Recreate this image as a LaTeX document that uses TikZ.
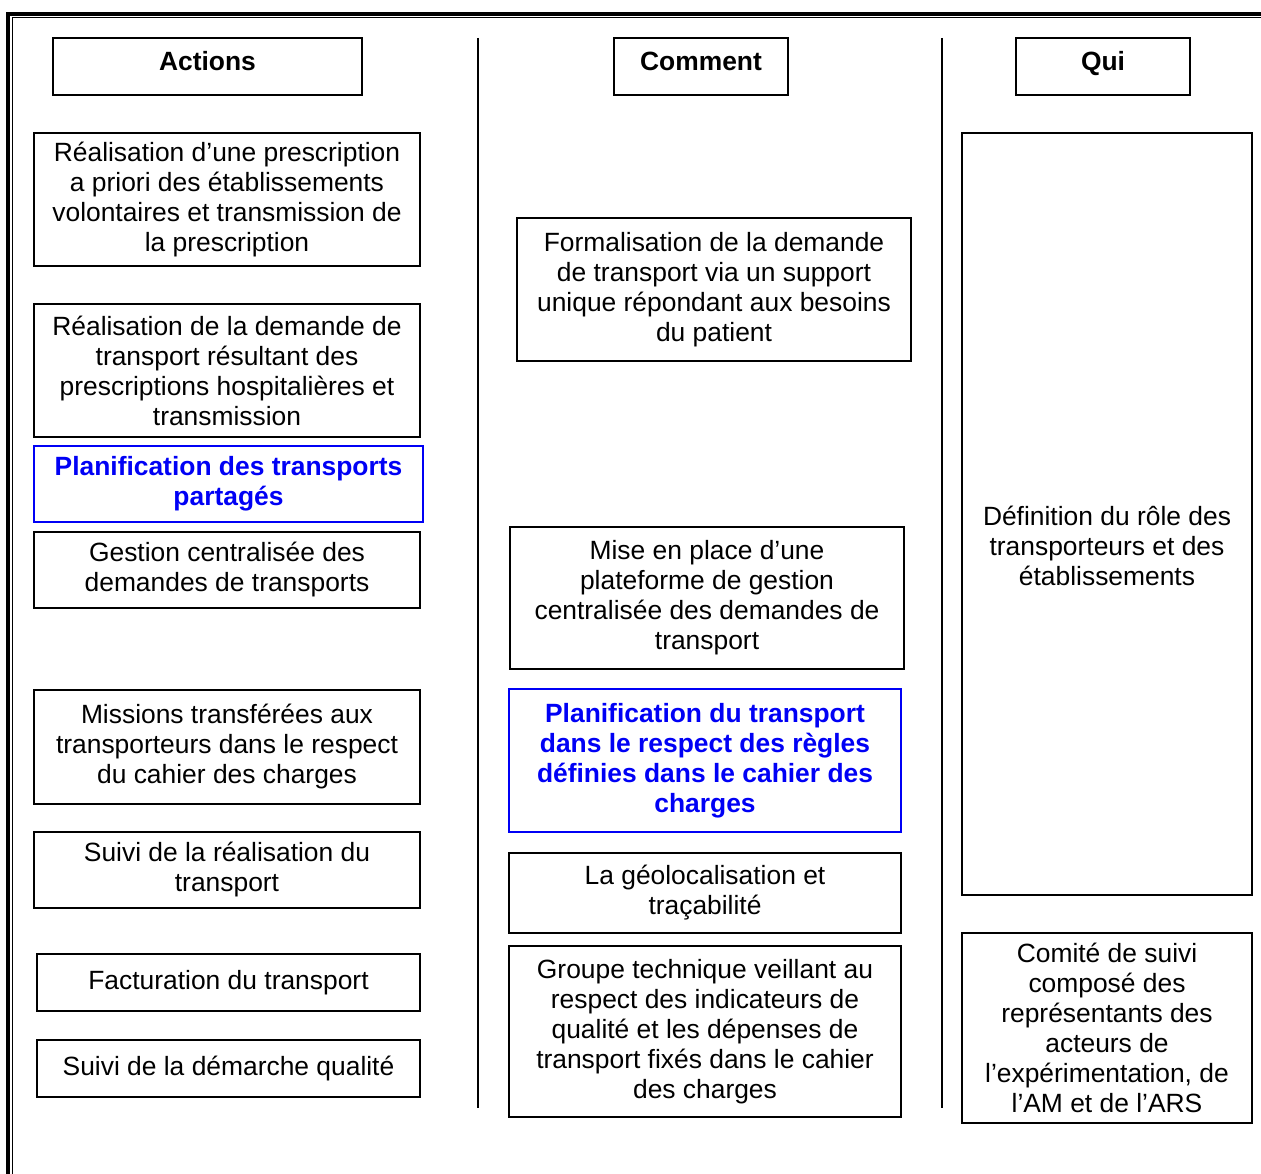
\documentclass[tikz,border=0pt]{standalone}
\usepackage{fontspec}
\setmainfont{Liberation Sans}
\definecolor{myblue}{RGB}{0,0,245}
\begin{document}
\begin{tikzpicture}[x=1pt,y=-1pt,
  box/.style={draw=black, line width=1.3pt, inner sep=0pt, align=center,
    font=\fontsize{26.4}{30}\selectfont},
  bluebox/.style={box, draw=myblue, text=myblue, font=\fontsize{26.4}{30}\selectfont\bfseries},
  head/.style={draw=black, line width=1.3pt, inner sep=0pt},
  headtxt/.style={inner sep=0pt, anchor=base, font=\fontsize{26.4}{30}\selectfont\bfseries},
  plain/.style={inner sep=0pt, align=center, font=\fontsize{26.4}{30}\selectfont},
  sep/.style={line width=1.6pt}]
\useasboundingbox (0,0) rectangle (1261,1174);
% frame
\draw[line width=4pt] (8,1190) -- (8,14) -- (1275,14);
\draw[line width=1pt] (12.5,1190) -- (12.5,18) -- (1275,18);
% separators
\coordinate (v1t) at (478,38); \coordinate (v1b) at (478,1108);
\coordinate (v2t) at (942,38); \coordinate (v2b) at (942,1108);
\draw[sep] (v1t) -- (v1b);
\draw[sep] (v2t) -- (v2b);
% headers
\node[head, minimum width=309pt, minimum height=57pt] (h1) at (207.5,66.5) {};
\node[headtxt] (h1t) at (207.5,71) {Actions};
\node[head, minimum width=174pt, minimum height=57pt] (h2) at (701,66.5) {};
\node[headtxt] (h2t) at (701,71) {Comment};
\node[head, minimum width=174pt, minimum height=57pt] (h3) at (1103,66.5) {};
\node[headtxt] (h3t) at (1103,71) {Qui};
% left column
\node[box, minimum width=386pt, minimum height=133pt] (l1) at (227,199.5)
  {Réalisation d’une prescription\\a priori des établissements\\volontaires et transmission de\\la prescription};
\node[box, minimum width=386pt, minimum height=133pt] (l2) at (227,370.5)
  {Réalisation de la demande de\\transport résultant des\\prescriptions hospitalières et\\transmission};
\node[bluebox, minimum width=389pt, minimum height=76pt] (l3) at (228.5,484)
  {Planification des transports\\partagés};
\node[box, minimum width=386pt, minimum height=76pt] (l4) at (227,570)
  {Gestion centralisée des\\demandes de transports};
\node[box, minimum width=386pt, minimum height=114pt] (l5) at (227,747)
  {Missions transférées aux\\transporteurs dans le respect\\du cahier des charges};
\node[box, minimum width=386pt, minimum height=76pt] (l6) at (227,870)
  {Suivi de la réalisation du\\transport};
\node[box, minimum width=383pt, minimum height=57pt] (l7) at (228.5,982.5)
  {Facturation du transport};
\node[box, minimum width=383pt, minimum height=57pt] (l8) at (228.5,1068.5)
  {Suivi de la démarche qualité};
% middle column
\node[box, minimum width=394pt, minimum height=143pt] (m1) at (714,289.5)
  {Formalisation de la demande\\de transport via un support\\unique répondant aux besoins\\du patient};
\node[box, minimum width=394pt, minimum height=142pt] (m2) at (707,598)
  {Mise en place d’une\\plateforme de gestion\\centralisée des demandes de\\transport};
\node[bluebox, minimum width=392pt, minimum height=143pt] (m3) at (705,760.5)
  {Planification du transport\\dans le respect des règles\\définies dans le cahier des\\charges};
\node[box, minimum width=392pt, minimum height=80pt] (m4) at (705,893)
  {La géolocalisation et\\traçabilité};
\node[box, minimum width=392pt, minimum height=171pt] (m5) at (705,1031.5)
  {Groupe technique veillant au\\respect des indicateurs de\\qualité et les dépenses de\\transport fixés dans le cahier\\des charges};
% right column
\node[box, minimum width=290pt, minimum height=762pt] (r1) at (1107,514) {};
\node[plain] (r1t) at (1107,546)
  {Définition du rôle des\\transporteurs et des\\établissements};
\node[box, minimum width=290pt, minimum height=190pt] (r2) at (1107,1028)
  {Comité de suivi\\composé des\\représentants des\\acteurs de\\l’expérimentation, de\\l’AM et de l’ARS};
\end{tikzpicture}
\end{document}
